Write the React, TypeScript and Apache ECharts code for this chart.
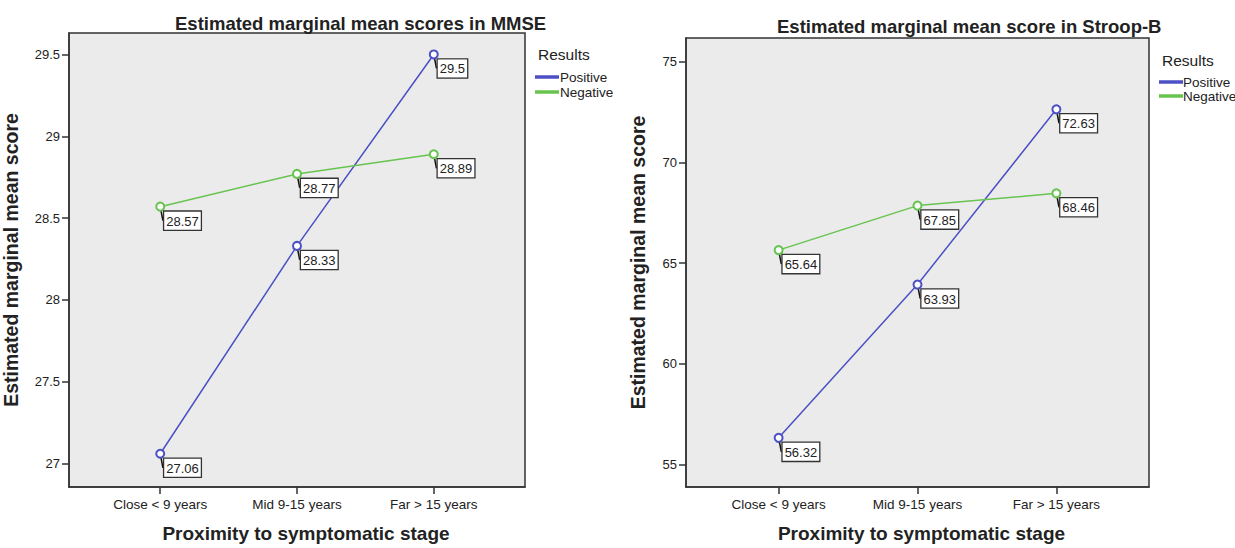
import React, { useEffect, useRef } from "react";
import * as echarts from "echarts";

const categories = ["Close < 9 years", "Mid 9-15 years", "Far > 15 years"];
const seriesNames = ["Positive", "Negative"];
const mmsePositive = [27.06, 28.33, 29.5];
const mmseNegative = [28.57, 28.77, 28.89];
const stroopPositive = [56.32, 63.93, 72.63];
const stroopNegative = [65.64, 67.85, 68.46];
const mmseTicks = [27, 27.5, 28, 28.5, 29, 29.5];
const stroopTicks = [55, 60, 65, 70, 75];
const categoryIdx = [0, 1, 2];

const FONT = "'Liberation Sans', Arial, Helvetica, sans-serif";
const BLUE = "#4b50c4";
const GREEN = "#66c44f";
const INK = "#222";
const FRAME = "#333";

function toPoints(vals: number[]) {
  return vals.map((v, i) => [categoryIdx[i], v]);
}

function xAxis(gridIndex: number) {
  return {
    type: "value",
    gridIndex,
    min: -0.667,
    max: 2.667,
    name: "Proximity to symptomatic stage",
    nameLocation: "middle",
    nameGap: 37,
    nameTextStyle: { fontFamily: FONT, fontSize: 19, fontWeight: "bold", color: INK, padding: gridIndex === 0 ? [0, 0, 0, 18] : [0, 0, 0, 8] },
    splitLine: { show: false },
    axisLine: { show: true, onZero: false, lineStyle: { color: FRAME, width: 1.5 } },
    axisTick: { show: true, customValues: categoryIdx, length: 7, lineStyle: { color: FRAME, width: 1.5 } },
    axisLabel: {
      customValues: categoryIdx,
      margin: 10,
      fontFamily: FONT,
      fontSize: 13.5,
      color: INK,
      formatter: (v: number) => categories[Math.round(v)] ?? "",
    },
  };
}

function yAxis(gridIndex: number, min: number, max: number, ticks: number[], nameGap: number) {
  return {
    type: "value",
    gridIndex,
    min,
    max,
    name: "Estimated marginal mean score",
    nameLocation: "middle",
    nameGap,
    nameTextStyle: { fontFamily: FONT, fontSize: 19.5, fontWeight: "bold", color: INK },
    splitLine: { show: false },
    axisLine: { show: true, onZero: false, lineStyle: { color: FRAME, width: 1.5 } },
    axisTick: { show: true, customValues: ticks, length: 7, lineStyle: { color: FRAME, width: 1.5 } },
    axisLabel: {
      customValues: ticks,
      margin: 9,
      fontFamily: FONT,
      fontSize: 13,
      color: INK,
      formatter: (v: number) => String(v),
    },
  };
}

function lineSeries(name: string, color: string, vals: number[], axisIndex: number) {
  return {
    type: "line",
    name,
    xAxisIndex: axisIndex,
    yAxisIndex: axisIndex,
    data: toPoints(vals),
    symbol: "emptyCircle",
    symbolSize: 8,
    color,
    lineStyle: { color, width: 1.5 },
    itemStyle: { color, borderColor: color, borderWidth: 1.2 },
    label: {
      show: true,
      position: [9, 10],
      formatter: (p: any) => String(p.value[1]),
      fontFamily: FONT,
      fontSize: 13,
      color: INK,
      backgroundColor: "#fff",
      borderColor: FRAME,
      borderWidth: 1.3,
      padding: [3, 2, 2, 2],
    },
    labelLine: { show: true, lineStyle: { color: "#111", width: 1.5 } },
    emphasis: { disabled: true },
    z: 3,
  };
}

export default function App() {
  const ref = useRef<HTMLDivElement>(null);
  useEffect(() => {
    if (!ref.current) return;
    const chart = echarts.init(ref.current, undefined, { renderer: "svg" });
    chart.setOption({
      animation: false,
      backgroundColor: "#fff",
      title: [
        { text: "Estimated marginal mean scores in MMSE", left: 170, top: 9, textStyle: { fontFamily: FONT, fontSize: 18.5, fontWeight: "bold", color: INK } },
        { text: "Estimated marginal mean score in Stroop-B", left: 772, top: 12, textStyle: { fontFamily: FONT, fontSize: 18.5, fontWeight: "bold", color: INK } },
        { text: "Results", left: 533, top: 41, textStyle: { fontFamily: FONT, fontSize: 15.5, fontWeight: "normal", color: INK } },
        { text: "Results", left: 1157, top: 47, textStyle: { fontFamily: FONT, fontSize: 15.5, fontWeight: "normal", color: INK } },
      ],
      legend: [
        {
          data: seriesNames,
          orient: "vertical",
          left: 530,
          top: 65,
          icon: "rect",
          itemWidth: 22,
          itemHeight: 1.5,
          itemGap: 1,
          selectedMode: false,
          textStyle: { fontFamily: FONT, fontSize: 13.5, color: INK, lineHeight: 14, padding: [0, 0, 0, -3] },
        },
        {
          data: seriesNames,
          orient: "vertical",
          left: 1154,
          top: 70,
          icon: "rect",
          itemWidth: 22,
          itemHeight: 1.5,
          itemGap: 0,
          selectedMode: false,
          textStyle: { fontFamily: FONT, fontSize: 13.5, color: INK, lineHeight: 13, padding: [0, 0, 0, -4] },
        },
      ],
      grid: [
        { left: 66, top: 33, width: 459, height: 465, show: true, backgroundColor: "#ebebeb", borderColor: FRAME, borderWidth: 1.5 },
        { left: 686, top: 38, width: 463, height: 459, show: true, backgroundColor: "#ebebeb", borderColor: FRAME, borderWidth: 1.5 },
      ],
      xAxis: [xAxis(0), xAxis(1)],
      yAxis: [
        yAxis(0, 26.857, 29.631, mmseTicks, 48),
        yAxis(1, 53.88, 76.17, stroopTicks, 38),
      ],
      series: [
        lineSeries(seriesNames[0], BLUE, mmsePositive, 0),
        lineSeries(seriesNames[1], GREEN, mmseNegative, 0),
        lineSeries(seriesNames[0], BLUE, stroopPositive, 1),
        lineSeries(seriesNames[1], GREEN, stroopNegative, 1),
      ],
    });
    return () => chart.dispose();
  }, []);
  return <div ref={ref} style={{ position: "fixed", left: 0, top: 0, width: 1235, height: 548 }} />;
}
